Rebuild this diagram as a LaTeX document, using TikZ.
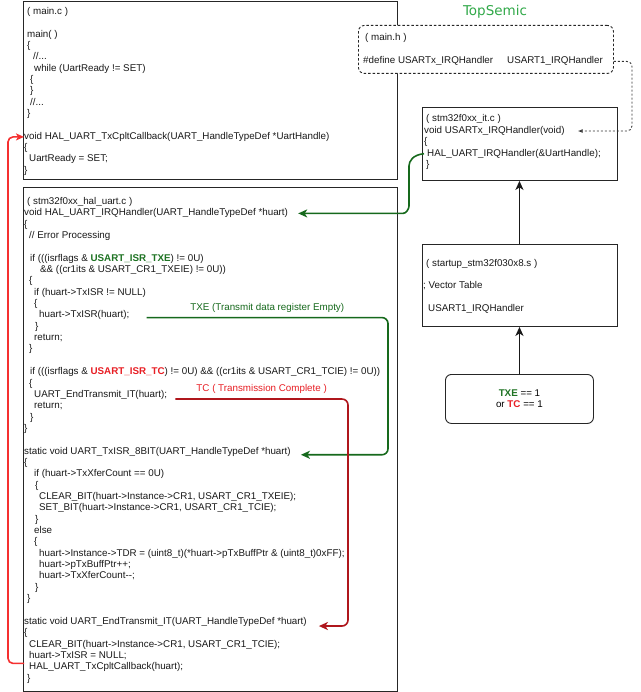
\documentclass[tikz,border=0pt]{standalone}
\usepackage{fontspec}
\newfontfamily\codefont{Liberation Sans}
\newfontfamily\brandfont{DejaVu Sans}
\usetikzlibrary{matrix}
\usetikzlibrary{calc}
\usetikzlibrary{arrows.meta}
\definecolor{txegreen}{RGB}{22,105,28}
\definecolor{flaggreen}{RGB}{30,115,35}
\definecolor{tcred}{RGB}{175,22,28}
\definecolor{flagred}{RGB}{232,30,36}
\definecolor{backred}{RGB}{245,48,48}
\definecolor{brandgreen}{RGB}{48,168,72}
\tikzset{code board/.style={
          matrix of nodes,
          nodes in empty cells,
          inner sep=0pt,
          row sep=0pt,
          nodes={anchor=base west, inner sep=0pt, text height=8pt, text depth=3.35pt, text=black!90} % fixed height so every row is 11.35pt apart
          },
        code font/.style={font=\codefont\fontsize{9.8pt}{11.35pt}\selectfont},
        code box/.style={draw=black!85, line width=0.9pt, fill=white, anchor=north west, inner sep=0pt},
        header box/.style={code box, dashed, dash pattern=on 2.5pt off 2pt, rounded corners=6pt},
        flag box/.style={code box, rounded corners=6pt, align=center},
        flow arrow/.style={draw=black!90, line width=1.8pt, -{Stealth[length=9pt,width=8pt,inset=2.5pt]}},
        txe line/.style={draw=txegreen, line width=1.6pt, rounded corners=6pt, -{Stealth[length=9pt,width=8pt,inset=2.5pt]}},
        tc line/.style={draw=tcred, line width=1.6pt, rounded corners=6pt, -{Stealth[length=9pt,width=8pt,inset=2.5pt]}},
        back line/.style={draw=backred, line width=1.6pt, rounded corners=5pt, -{Stealth[length=8pt,width=7pt,inset=2pt]}},
        dot line/.style={draw=black!80, line width=0.9pt, dash pattern=on 2pt off 2pt, rounded corners=5pt, -{Latex[open,length=5pt,width=4pt]}},
}
\newcommand{\txeflag}[1]{\textbf{\color{flaggreen}#1}}
\newcommand{\tcflag}[1]{\textbf{\color{flagred}#1}}

\begin{document}
\begin{tikzpicture}[x=1pt, y=-1pt]
      \useasboundingbox (0,0) rectangle (640,692);
      % \draw[help lines, dashed] grid (640, 692);

      % BOXES
      \node[code box, minimum width=374pt, minimum height=178pt] (mainbox) at (23,1) {};
      \node[code box, minimum width=374pt, minimum height=504pt] (halbox) at (23,187) {};
      \node[header box, minimum width=255pt, minimum height=48pt] (mainh) at (358,25) {};
      \node[code box, minimum width=195pt, minimum height=73pt] (itbox) at (422,107) {};
      \node[code box, minimum width=195pt, minimum height=82pt] (startbox) at (422,244) {};
      \node[flag box, code font, minimum width=148pt, minimum height=49pt] (flag) at (445,374)
        {\txeflag{TXE} == 1\\or \tcflag{TC} == 1};

      \node[font=\brandfont\fontsize{13.5pt}{14pt}\selectfont, text=brandgreen] (brand) at (495,12) {TopSemic};

      % MAIN.C
      \matrix[code board, nodes={code font}, matrix anchor=north west] (mainc) at (24,6.2) {
        \hspace*{3pt}( main.c ) \\
        {} \\
        \hspace*{3pt}main( ) \\
        \hspace*{3pt}\{ \\
        \hspace*{9pt}//... \\
        \hspace*{10pt}while (UartReady != SET) \\
        \hspace*{6pt}\{ \\
        \hspace*{6pt}\} \\
        \hspace*{6pt}//... \\
        \hspace*{3pt}\} \\
        {} \\
        void HAL\_UART\_TxCpltCallback(UART\_HandleTypeDef *UartHandle) \\
        \{ \\
        \hspace*{5pt}UartReady = SET; \\
        \} \\
      };

      % MAIN.H
      \matrix[code board, nodes={code font}, matrix anchor=north west] (mainhtext) at (363,32.8) {
        \hspace*{2pt}( main.h ) \\
        {} \\
        \#define USARTx\_IRQHandler\hspace*{14pt}USART1\_IRQHandler \\
      };

      % STM32F0XX_IT.C
      \matrix[code board, nodes={code font}, matrix anchor=north west] (itc) at (424,113.8) {
        \hspace*{2pt}( stm32f0xx\_it.c ) \\
        void USARTx\_IRQHandler(void) \\
        \{ \\
        \hspace*{3pt}HAL\_UART\_IRQHandler(\&UartHandle); \\
        \hspace*{2pt}\} \\
      };

      % STARTUP FILE
      \matrix[code board, nodes={code font}, matrix anchor=north west] (startup) at (423,257.8) {
        \hspace*{3pt}( startup\_stm32f030x8.s ) \\
        {} \\
        ; Vector Table \\
        {} \\
        \hspace*{5pt}USART1\_IRQHandler \\
      };

      % STM32F0XX_HAL_UART.C
      \matrix[code board, nodes={code font}, matrix anchor=north west] (halc) at (24,196.2) {
        \hspace*{3pt}( stm32f0xx\_hal\_uart.c ) \\
        void HAL\_UART\_IRQHandler(UART\_HandleTypeDef *huart) \\
        \{ \\
        \hspace*{5pt}// Error Processing \\
        {} \\
        \hspace*{6pt}if (((isrflags \& \txeflag{USART\_ISR\_TXE}) != 0U) \\
        \hspace*{16pt}\&\& ((cr1its \& USART\_CR1\_TXEIE) != 0U)) \\
        \hspace*{5pt}\{ \\
        \hspace*{10pt}if (huart->TxISR != NULL) \\
        \hspace*{10pt}\{ \\
        \hspace*{15pt}huart->TxISR(huart); \\
        \hspace*{11pt}\} \\
        \hspace*{10pt}return; \\
        \hspace*{5pt}\} \\
        {} \\
        \hspace*{6pt}if (((isrflags \& \tcflag{USART\_ISR\_TC}) != 0U) \&\& ((cr1its \& USART\_CR1\_TCIE) != 0U)) \\
        \hspace*{5pt}\{ \\
        \hspace*{10pt}UART\_EndTransmit\_IT(huart); \\
        \hspace*{10pt}return; \\
        \hspace*{6pt}\} \\
        \} \\
        {} \\
        static void UART\_TxISR\_8BIT(UART\_HandleTypeDef *huart) \\
        \{ \\
        \hspace*{10pt}if (huart->TxXferCount == 0U) \\
        \hspace*{11pt}\{ \\
        \hspace*{15pt}CLEAR\_BIT(huart->Instance->CR1, USART\_CR1\_TXEIE); \\
        \hspace*{15pt}SET\_BIT(huart->Instance->CR1, USART\_CR1\_TCIE); \\
        \hspace*{11pt}\} \\
        \hspace*{10pt}else \\
        \hspace*{10pt}\{ \\
        \hspace*{15pt}huart->Instance->TDR = (uint8\_t)(*huart->pTxBuffPtr \& (uint8\_t)0xFF); \\
        \hspace*{15pt}huart->pTxBuffPtr++; \\
        \hspace*{15pt}huart->TxXferCount-{}-; \\
        \hspace*{11pt}\} \\
        \hspace*{3pt}\} \\
        {} \\
        static void UART\_EndTransmit\_IT(UART\_HandleTypeDef *huart) \\
        \{ \\
        \hspace*{5pt}CLEAR\_BIT(huart->Instance->CR1, USART\_CR1\_TCIE); \\
        \hspace*{5pt}huart->TxISR = NULL; \\
        \hspace*{5pt}HAL\_UART\_TxCpltCallback(huart); \\
        \hspace*{3pt}\} \\
      };

      % WIRING
      \coordinate (txebend) at (388,0);
      \coordinate (tcbend) at (348,0);
      \coordinate (backbend) at (8,0);
      \coordinate (dotbend) at (632,0);
      \coordinate (irqa) at (409,172);
      \coordinate (irqb) at (409,200);
      \coordinate (irqc) at ($(irqb |- halc-2-1.east)+(-12,0)$);
      \coordinate (hdef) at ([yshift=-12pt]mainh.east);
      \coordinate (txeout) at ([xshift=17pt,yshift=-2pt]halc-11-1.east);
      \coordinate (txein) at ([xshift=10pt,yshift=-3pt]halc-23-1.east);
      \coordinate (tcout) at ([xshift=8pt,yshift=-4pt]halc-18-1.east);
      \coordinate (tcin) at ([xshift=12pt,yshift=-4pt]halc-38-1.east);
      \coordinate (backout) at ([yshift=4pt]halc-42-1.west);

      \draw[flow arrow] (flag.north) -- (flag.north |- startbox.south);
      \draw[flow arrow] (flag.north |- startbox.north) -- (flag.north |- itbox.south);

      \draw[dot line] (hdef) -- (hdef -| dotbend) -- (dotbend |- itc-2-1.east) -- ([xshift=13pt]itc-2-1.east);

      \draw[txe line] (itc-4-1.west) .. controls +(-11,1) and +(0,-11) .. (irqa) -- (irqb)
        .. controls +(0,9) and +(9,0) .. (irqc) -- ([xshift=10pt]halc-2-1.east);

      \draw[txe line] (txeout) -- node[above=1pt, code font, text=txegreen]{TXE (Transmit data register Empty)} (txeout -| txebend)
        -- (txebend |- txein) -- (txein);
      \draw[tc line] (tcout) -- node[above=1pt, code font, text=flagred]{TC ( Transmission Complete )} (tcout -| tcbend)
        -- (tcbend |- tcin) -- (tcin);
      \draw[back line] (backout) -- (backout -| backbend) -- (backbend |- mainc-12-1.west) -- (mainc-12-1.west);

\end{tikzpicture}
\end{document}
